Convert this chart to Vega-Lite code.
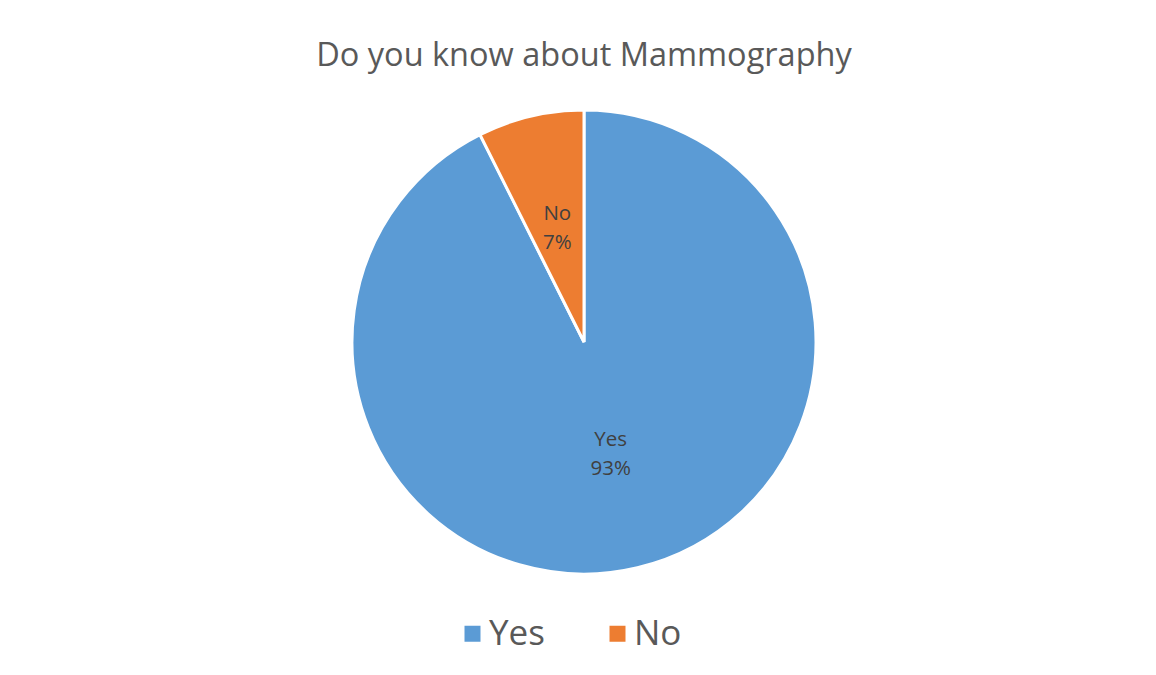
{
  "$schema": "https://vega.github.io/schema/vega-lite/v6.json",
  "autosize": "none",
  "padding": {"top": 8, "left": 7, "right": 0, "bottom": 0},
  "width": 1154,
  "height": 668,
  "background": "white",
  "config": {"view": {"stroke": "#d9d9d9", "strokeWidth": 1.5}, "font": "Open Sans"},
  "title": {
    "text": "Do you know about Mammography",
    "fontSize": 32.5,
    "font": "Open Sans",
    "fontWeight": "normal",
    "color": "#595959",
    "anchor": "middle",
    "baseline": "middle",
    "offset": -80,
    "dx": 0
  },
  "data": {
    "values": [
      {"answer": "Yes", "percent": 92.6, "rank": 1, "label": "Yes\n93%"},
      {"answer": "No", "percent": 7.4, "rank": 2, "label": "No\n7%"}
    ]
  },
  "encoding": {
    "theta": {"field": "percent", "type": "quantitative", "stack": true},
    "order": {"field": "rank", "type": "quantitative", "sort": "ascending"},
    "color": {
      "field": "answer",
      "type": "nominal",
      "sort": ["Yes", "No"],
      "scale": {"domain": ["Yes", "No"], "range": ["#5B9BD5", "#ED7D31"]},
      "legend": {
        "title": null,
        "orient": "none",
        "direction": "horizontal",
        "legendX": 448,
        "legendY": 608,
        "symbolType": "square",
        "symbolSize": 256,
        "symbolStrokeWidth": 0,
        "labelFontSize": 35,
        "labelColor": "#595959",
        "labelFont": "Open Sans",
        "labelOffset": -1,
        "columnPadding": 55,
        "padding": 0
      }
    }
  },
  "layer": [
    {
      "mark": {"type": "arc", "outerRadius": 232, "stroke": "white", "strokeWidth": 3}
    },
    {
      "mark": {"type": "text", "radius": 116, "fontSize": 20.5, "lineBreak": "\n", "lineHeight": 29, "dy": -15, "font": "Open Sans"},
      "encoding": {
        "text": {"field": "label"},
        "color": {"value": "#404040"}
      }
    }
  ]
}
